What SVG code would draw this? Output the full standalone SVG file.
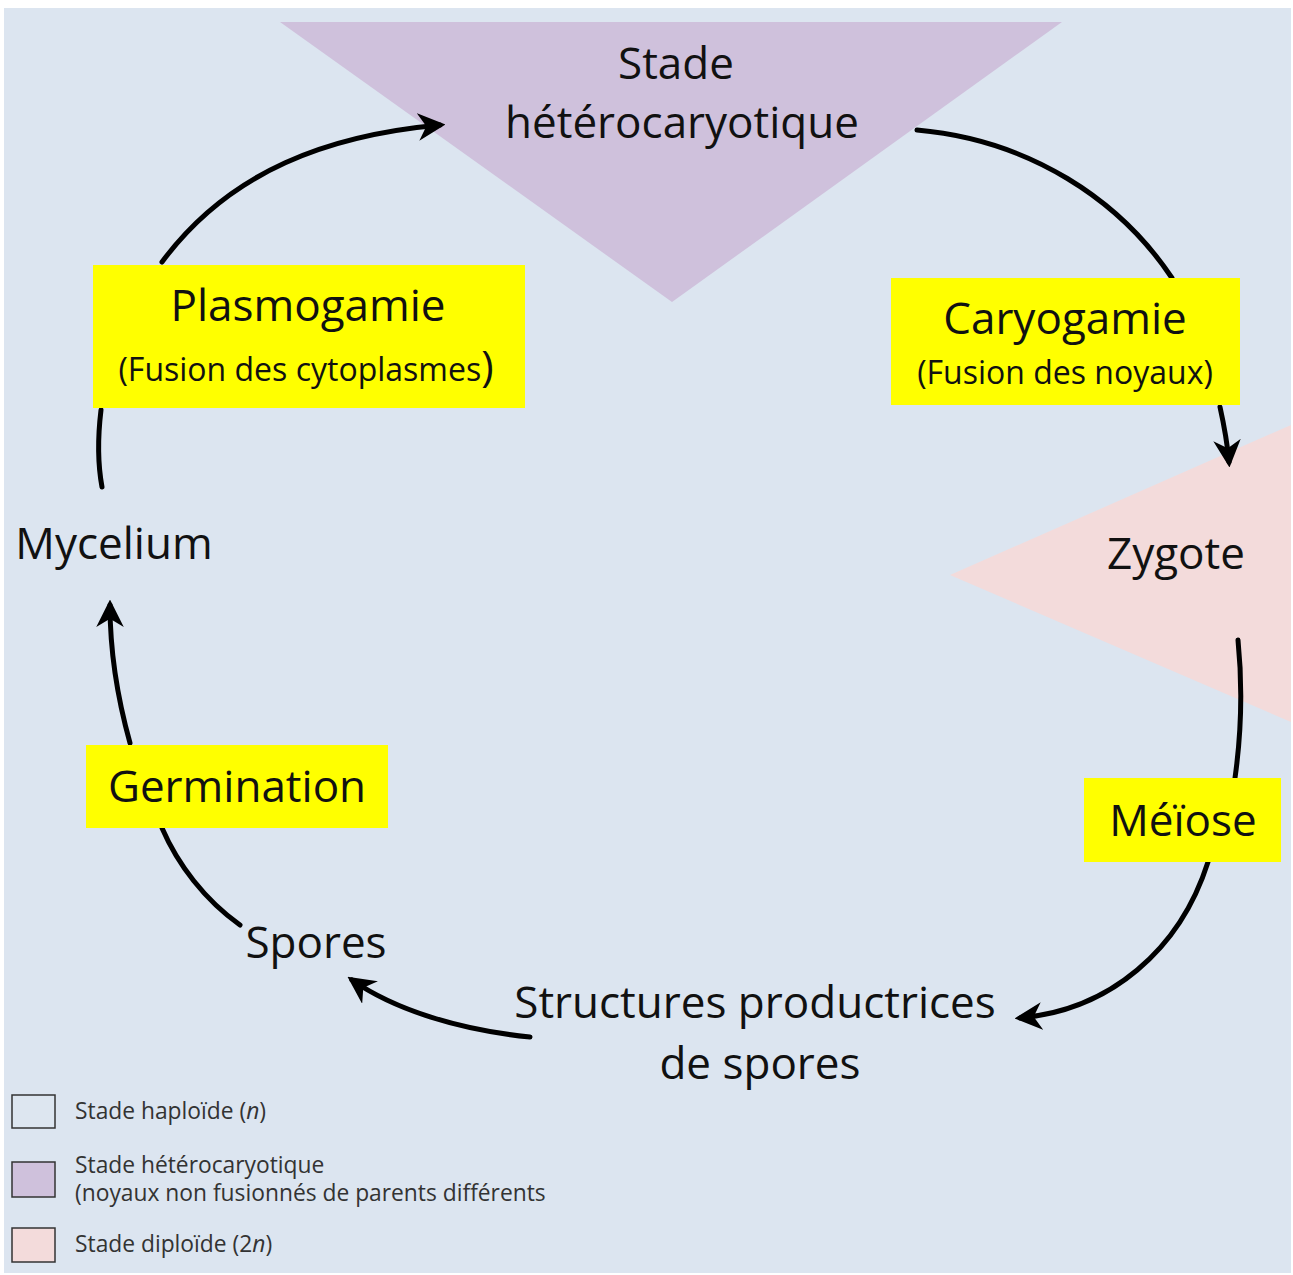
<svg xmlns="http://www.w3.org/2000/svg" width="1293" height="1275" viewBox="0 0 1293 1275">
<defs>
<style>
.t{font-family:"Open Sans","Liberation Sans",sans-serif;fill:#111;}
.big{font-size:44px;}
.mid{font-size:32px;}
.leg{font-family:"Open Sans","Liberation Sans",sans-serif;font-size:22.8px;fill:#333;}
.box{fill:#ffff00;}
.arc{fill:none;stroke:#000;stroke-width:5;stroke-linecap:round;}
.lb{stroke:#333;stroke-width:1.5;}
</style>
<marker id="ah" viewBox="0 0 10 10" refX="8" refY="5" markerWidth="5.5" markerHeight="5.5" orient="auto" markerUnits="strokeWidth">
<path d="M0,0 L10,5 L0,10 L3,5 Z" fill="#000"/>
</marker>
</defs>
<rect x="0" y="0" width="1293" height="1275" fill="#fff"/>
<rect x="4" y="8" width="1287" height="1265" fill="#dce5f0"/>
<g id="regions">
<polygon points="280,22 1062,22 672,302" fill="#cfc1dc"/>
<polygon points="1291,425 950,575 1291,722" fill="#f3dbdb"/>
</g>
<g id="connectors">
<path class="arc" d="M162,262 C230,170 330,135 440,125" marker-end="url(#ah)"/>
<path class="arc" d="M917,130 C1030,140 1120,200 1172,278"/>
<path class="arc" d="M1220,407 C1224,425 1227,440 1229,462" marker-end="url(#ah)"/>
<path class="arc" d="M1238,640 C1243,690 1241,735 1235,778"/>
<path class="arc" d="M1208,862 C1180,950 1110,1010 1020,1018" marker-end="url(#ah)"/>
<path class="arc" d="M530,1037 C460,1030 395,1010 352,980" marker-end="url(#ah)"/>
<path class="arc" d="M240,925 C205,900 178,865 162,828"/>
<path class="arc" d="M130,743 C118,700 110,650 110,605" marker-end="url(#ah)"/>
<path class="arc" d="M102,487 C97,460 98,435 101,410"/>
</g>
<g id="node-heterocaryotique">
<text class="t big" x="676" y="79" text-anchor="middle">Stade</text>
<text class="t big" x="682" y="138" text-anchor="middle">hétérocaryotique</text>
</g>
<g id="node-plasmogamie">
<rect class="box" x="93" y="265" width="432" height="143"/>
<text class="t big" x="308" y="321" text-anchor="middle">Plasmogamie</text>
<text class="t mid" x="306" y="381" text-anchor="middle">(Fusion des cytoplasmes<tspan font-size="42">)</tspan></text>
</g>
<g id="node-caryogamie">
<rect class="box" x="891" y="278" width="349" height="127"/>
<text class="t big" x="1065" y="334" text-anchor="middle">Caryogamie</text>
<text class="t mid" x="1065" y="384" text-anchor="middle">(Fusion des noyaux)</text>
</g>
<g id="node-zygote">
<text class="t big" x="1176" y="569" text-anchor="middle">Zygote</text>
</g>
<g id="node-meiose">
<rect class="box" x="1084" y="778" width="197" height="84"/>
<text class="t big" x="1183" y="836" text-anchor="middle">Méïose</text>
</g>
<g id="node-structures">
<text class="t big" x="755" y="1018" text-anchor="middle">Structures productrices</text>
<text class="t big" x="760" y="1079" text-anchor="middle">de spores</text>
</g>
<g id="node-spores">
<text class="t big" x="316" y="958" text-anchor="middle">Spores</text>
</g>
<g id="node-germination">
<rect class="box" x="86" y="745" width="302" height="83"/>
<text class="t big" x="237" y="802" text-anchor="middle">Germination</text>
</g>
<g id="node-mycelium">
<text class="t big" x="114" y="559" text-anchor="middle">Mycelium</text>
</g>
<g id="legend">
<rect class="lb" x="12" y="1095" width="43" height="33" fill="#dde6f0"/>
<text class="leg" x="75" y="1119">Stade haploïde (<tspan font-style="italic">n</tspan>)</text>
<rect class="lb" x="12" y="1162" width="43" height="35" fill="#cfc1dc"/>
<text class="leg" x="75" y="1173">Stade hétérocaryotique</text>
<text class="leg" x="75" y="1201">(noyaux non fusionnés de parents différents</text>
<rect class="lb" x="12" y="1228" width="43" height="34" fill="#f3dbdb"/>
<text class="leg" x="75" y="1252">Stade diploïde (2<tspan font-style="italic">n</tspan>)</text>
</g>
</svg>
